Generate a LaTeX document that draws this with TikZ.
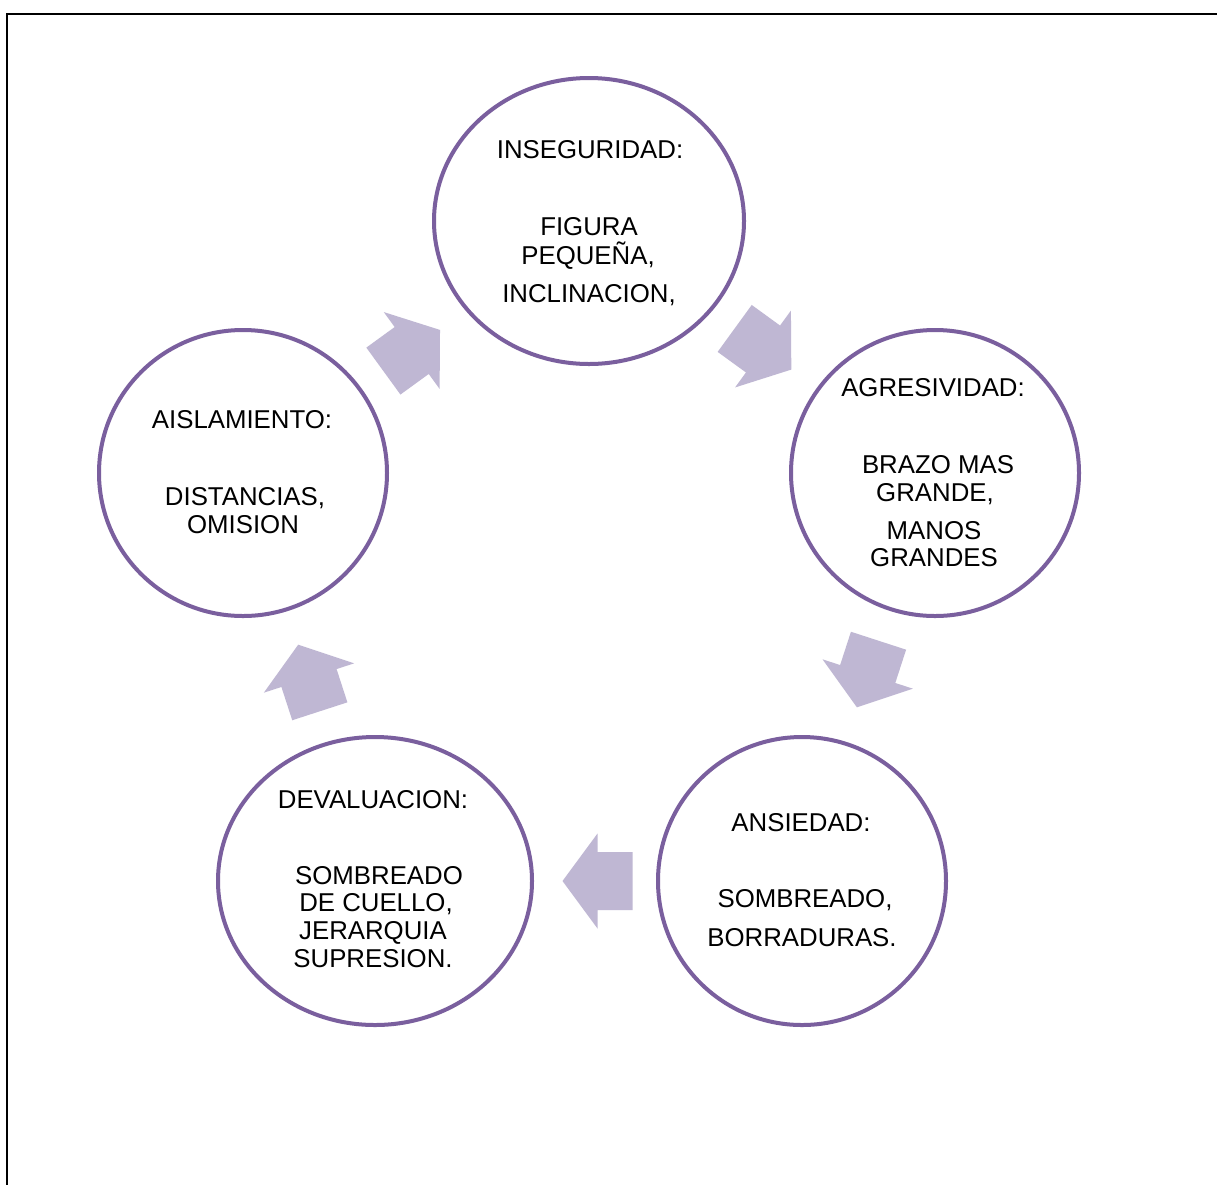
\documentclass[tikz,border=0pt]{standalone}
\usepackage{fontspec}
\setmainfont{Liberation Sans}
\usetikzlibrary{shapes.geometric}
\definecolor{ringline}{RGB}{122,95,158}
\definecolor{arrowfill}{RGB}{191,183,211}
\tikzset{
  ring/.style={ellipse, draw=ringline, line width=4pt, fill=white, inner sep=0pt},
  lbl/.style={inner sep=0pt, text height=18.5pt, text depth=0pt, anchor=center,
              font=\fontsize{25.8}{28.5}\selectfont, text=black},
  cyclearrow/.pic={
    \fill[arrowfill] (-35,29) -- (0,29) -- (0,47.5) -- (35,0) -- (0,-47.5)
      -- (0,-29) -- (-35,-29) -- cycle;
  }
}
\begin{document}
\begin{tikzpicture}[x=1pt,y=-1pt]
\clip (0,0) rectangle (1217,1184);
\fill[white] (0,0) rectangle (1217,1184);
% outer frame
\draw[line width=2.5pt, black] (7,14) rectangle (1240,1210);

% circles
\node[ring, minimum width=310pt, minimum height=286pt] (c1) at (589,221) {};
\node[ring, minimum width=288pt, minimum height=286pt] (c2) at (935,473) {};
\node[ring, minimum width=288pt, minimum height=288pt] (c3) at (802,881) {};
\node[ring, minimum width=314pt, minimum height=288pt] (c4) at (375,881) {};
\node[ring, minimum width=288pt, minimum height=286pt] (c5) at (243,473) {};

% block arrows between the circles
\pic[rotate=36]   at (411.7,350.5) {cyclearrow};
\pic[rotate=-36]  at (763,349)     {cyclearrow};
\pic[rotate=-108] at (867.7,674)   {cyclearrow};
\pic[rotate=180]  at (597.5,881)   {cyclearrow};
\pic[rotate=108]  at (309,678)     {cyclearrow};

% labels
\node[lbl] (t1a) at (590,149) {INSEGURIDAD:};
\node[lbl] (t1b) at (589,226) {FIGURA};
\node[lbl] (t1c) at (588,255) {PEQUEÑA,};
\node[lbl] (t1d) at (589,293) {INCLINACION,};

\node[lbl] (t2a) at (933,387) {AGRESIVIDAD:};
\node[lbl] (t2b) at (938,464) {BRAZO MAS};
\node[lbl] (t2c) at (935,492) {GRANDE,};
\node[lbl] (t2d) at (934,530) {MANOS};
\node[lbl] (t2e) at (934,557) {GRANDES};

\node[lbl] (t3a) at (801,822) {ANSIEDAD:};
\node[lbl] (t3b) at (805,898) {SOMBREADO,};
\node[lbl] (t3c) at (802,937) {BORRADURAS.};

\node[lbl] (t4a) at (373,799) {DEVALUACION:};
\node[lbl] (t4b) at (379,875) {SOMBREADO};
\node[lbl] (t4c) at (376,902) {DE CUELLO,};
\node[lbl] (t4d) at (373,930) {JERARQUIA};
\node[lbl] (t4e) at (373,958) {SUPRESION.};

\node[lbl] (t5a) at (242,419) {AISLAMIENTO:};
\node[lbl] (t5b) at (245,496) {DISTANCIAS,};
\node[lbl] (t5c) at (243,524) {OMISION};
\end{tikzpicture}
\end{document}
